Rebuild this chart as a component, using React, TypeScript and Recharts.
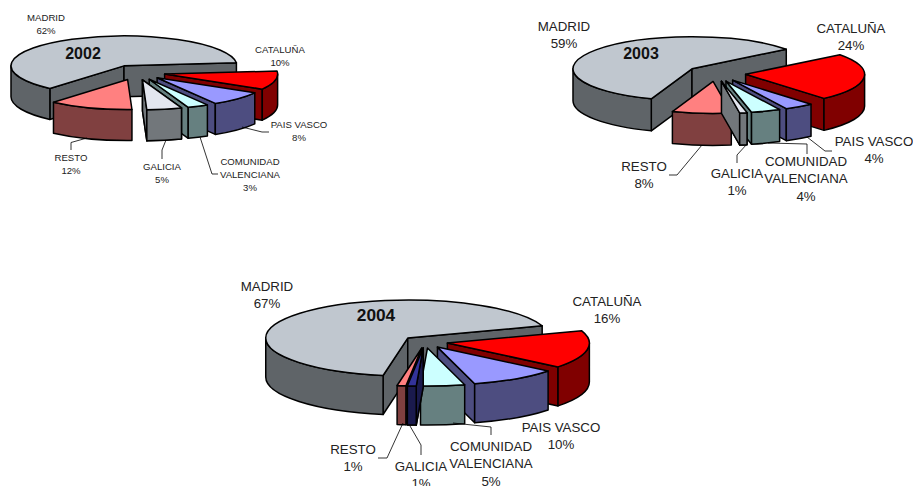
import React from "react";
import { Pie, PieChart } from "recharts";

const categories = ["MADRID", "CATALUÑA", "PAIS VASCO", "COMUNIDAD VALENCIANA", "GALICIA", "RESTO"];
const values2002 = [62, 10, 8, 3, 5, 12];
const values2003 = [59, 24, 4, 4, 1, 8];
const values2004 = [67, 16, 10, 5, 1, 1];

const topColors = ["#C0C7CF", "#FF0000", "#9999FF", "#CCFFFF", "#E3E6EF", "#FF8080"];
const wallColors = ["#5F6468", "#800000", "#4D4D80", "#668080", "#72777B", "#804040"];
const topColors2004 = ["#C0C7CF", "#FF0000", "#9999FF", "#CCFFFF", "#333399", "#FF8080"];
const wallColors2004 = ["#5F6468", "#800000", "#4D4D80", "#668080", "#1A1A4D", "#804040"];

// GALICIA sits nearest the viewer, so it is painted again above its neighbours
const FRONT_SLICE = 4;

// label anchors and leader lines, relative to each panel: [x, first baseline], then the polyline
type LabelSpot = { x: number; y: number; line?: number[][] };

const labels2002: LabelSpot[] = [
  { x: 46, y: 21 },
  { x: 280, y: 53 },
  { x: 299, y: 128, line: [[242, 127], [262, 132], [269, 132]] },
  { x: 250, y: 164.5, line: [[200, 137], [212, 174], [218, 174]] },
  { x: 162, y: 169.5, line: [[166, 140], [162, 150], [162, 159]] },
  { x: 71, y: 161, line: [[87, 138], [71, 142.5], [71, 150]] },
];
const labels2003: LabelSpot[] = [
  { x: 34, y: 31 },
  { x: 321, y: 33 },
  { x: 344, y: 146, line: [[277, 137], [295, 151], [302, 151]] },
  { x: 276, y: 166, line: [[238, 143], [277, 144], [277, 154]] },
  { x: 207, y: 178, line: [[217, 144], [207, 155], [207, 163]] },
  { x: 114, y: 171, line: [[172, 145], [147, 175], [139, 175]] },
];
const labels2004: LabelSpot[] = [
  { x: 37, y: 21 },
  { x: 377, y: 36 },
  { x: 331, y: 162 },
  { x: 261, y: 181, line: [[223, 153], [261, 157], [261, 165]] },
  { x: 191, y: 201, line: [[180, 156], [191, 175], [191, 185]] },
  { x: 123, y: 184, line: [[173, 153], [157, 188], [148, 188]] },
];

const polar = (cx: number, cy: number, r: number, squash: number, deg: number) => {
  const a = (deg * Math.PI) / 180;
  return { x: cx + r * Math.cos(a), y: cy - r * squash * Math.sin(a) };
};

// one exploded 3D slice, built from the angles and radius the Pie hands over
const makeSlice = (squash: number, depth: number, explode: number, walls: string[], only?: number) => (props: any) => {
  const { cx, cy, outerRadius: r, startAngle, endAngle, index } = props;
  if (only !== undefined && index !== only) return <g />;
  const mid = (startAngle + endAngle) / 2;
  const apex = polar(cx, cy, r * explode, squash, mid);
  const ry = r * squash;
  const p1 = polar(apex.x, apex.y, r, squash, startAngle);
  const p2 = polar(apex.x, apex.y, r, squash, endAngle);
  const span = Math.abs(endAngle - startAngle);
  const arc = (to: { x: number; y: number }, large: boolean, sweep: number) =>
    `A ${r} ${ry} 0 ${large ? 1 : 0} ${sweep} ${to.x} ${to.y}`;
  const top = `M ${apex.x} ${apex.y} L ${p1.x} ${p1.y} ${arc(p2, span > 180, 1)} Z`;
  const wallFill = walls[index];
  const radialWall = (p: { x: number; y: number }) =>
    `M ${apex.x} ${apex.y} L ${p.x} ${p.y} L ${p.x} ${p.y + depth} L ${apex.x} ${apex.y + depth} Z`;

  // the front half of the rim, clockwise angle from the back of the pie between 90 and 270
  const t1 = 90 - startAngle;
  const t2 = 90 - endAngle;
  const rims: string[] = [];
  [-360, 0, 360, 720].forEach((k) => {
    const from = Math.max(t1, 90 + k);
    const to = Math.min(t2, 270 + k);
    if (to > from) {
      const a = polar(apex.x, apex.y, r, squash, 90 - from);
      const b = polar(apex.x, apex.y, r, squash, 90 - to);
      rims.push(
        `M ${a.x} ${a.y} ${arc(b, to - from > 180, 1)} L ${b.x} ${b.y + depth} ${arc(
          { x: a.x, y: a.y + depth },
          to - from > 180,
          0
        )} Z`
      );
    }
  });

  const startVisible = Math.sin((t1 * Math.PI) / 180) < 0;
  const endVisible = Math.sin((t2 * Math.PI) / 180) > 0;

  return (
    <g stroke="#000" strokeWidth={1.5} strokeLinejoin="round">
      {startVisible && <path d={radialWall(p1)} fill={wallFill} />}
      {endVisible && <path d={radialWall(p2)} fill={wallFill} />}
      {rims.map((d) => (
        <path key={d} d={d} fill={wallFill} />
      ))}
      <path d={top} fill={props.fill} />
    </g>
  );
};

type TitleSpot = { year: string; x: number; y: number; size: number };

// the year title rides along with the first slice's label, a plain svg child of the chart is not drawn
const makeLabel = (spots: LabelSpot[], values: number[], size: number, lineHeight: number, title: TitleSpot) => (
  props: any
) => {
  const spot = spots[props.index];
  const name = categories[props.index];
  const rows = name === "COMUNIDAD VALENCIANA" ? name.split(" ") : [name];
  return (
    <g key={name} fontFamily="Liberation Sans" fontSize={size} fill="#222" textAnchor="middle">
      {spot.line && (
        <polyline points={spot.line.map((p) => p.join(",")).join(" ")} fill="none" stroke="#000" strokeWidth={0.8} />
      )}
      {rows.map((row, i) => (
        <text key={row} x={spot.x} y={spot.y + i * lineHeight}>
          {row}
        </text>
      ))}
      <text x={spot.x} y={spot.y + rows.length * lineHeight}>
        {values[props.index]}%
      </text>
      {props.index === 0 && (
        <text x={title.x} y={title.y} fontWeight="bold" fontSize={title.size} fill="#111">
          {title.year}
        </text>
      )}
    </g>
  );
};

type YearPieProps = {
  year: string;
  values: number[];
  left: number;
  top: number;
  width: number;
  height: number;
  cx: number;
  cy: number;
  radius: number;
  squash: number;
  depth: number;
  explode: number;
  startFromBack: number;
  spots: LabelSpot[];
  fontSize: number;
  lineHeight: number;
  titleX: number;
  titleY: number;
  titleSize: number;
  tops: string[];
  walls: string[];
};

const YearPie = (p: YearPieProps) => {
  const rows = p.values.map((value, i) => ({ name: categories[i], value, fill: p.tops[i] }));
  const pieProps = {
    data: rows,
    dataKey: "value",
    nameKey: "name",
    cx: p.cx,
    cy: p.cy,
    innerRadius: 0,
    outerRadius: p.radius,
    startAngle: 90 - p.startFromBack,
    endAngle: 90 - p.startFromBack - 360,
    isAnimationActive: false,
  };
  const title = { year: p.year, x: p.titleX, y: p.titleY, size: p.titleSize };
  return (
    <div style={{ position: "absolute", left: p.left, top: p.top }}>
      <PieChart width={p.width} height={p.height} margin={{ top: 0, right: 0, bottom: 0, left: 0 }}>
        <Pie {...pieProps} shape={makeSlice(p.squash, p.depth, p.explode, p.walls)} label={false} labelLine={false} />
        <Pie
          {...pieProps}
          shape={makeSlice(p.squash, p.depth, p.explode, p.walls, FRONT_SLICE)}
          label={makeLabel(p.spots, p.values, p.fontSize, p.lineHeight, title)}
          labelLine={false}
        />
      </PieChart>
    </div>
  );
};

export default function App() {
  return (
    <div style={{ position: "absolute", left: 0, top: 0, width: 913, height: 486, overflow: "hidden", background: "#fff" }}>
      <YearPie
        year="2002"
        values={values2002}
        left={0}
        top={0}
        width={340}
        height={200}
        cx={137}
        cy={72.5}
        radius={113}
        squash={0.265}
        depth={31}
        explode={0.25}
        startFromBack={221}
        spots={labels2002}
        fontSize={9.6}
        lineHeight={13}
        titleX={83}
        titleY={59}
        titleSize={16}
        tops={topColors}
        walls={wallColors}
      />
      <YearPie
        year="2003"
        values={values2003}
        left={530}
        top={0}
        width={383}
        height={210}
        cx={186}
        cy={73.5}
        radius={119}
        squash={0.269}
        depth={32}
        explode={0.25}
        startFromBack={200}
        spots={labels2003}
        fontSize={13.3}
        lineHeight={17.3}
        titleX={111}
        titleY={59}
        titleSize={16}
        tops={topColors}
        walls={wallColors}
      />
      <YearPie
        year="2004"
        values={values2004}
        left={230}
        top={270}
        width={480}
        height={216}
        cx={195}
        cy={72}
        radius={142}
        squash={0.268}
        depth={39}
        explode={0.16}
        startFromBack={190}
        spots={labels2004}
        fontSize={13.3}
        lineHeight={17.3}
        titleX={146}
        titleY={51}
        titleSize={17.3}
        tops={topColors2004}
        walls={wallColors2004}
      />
    </div>
  );
}
